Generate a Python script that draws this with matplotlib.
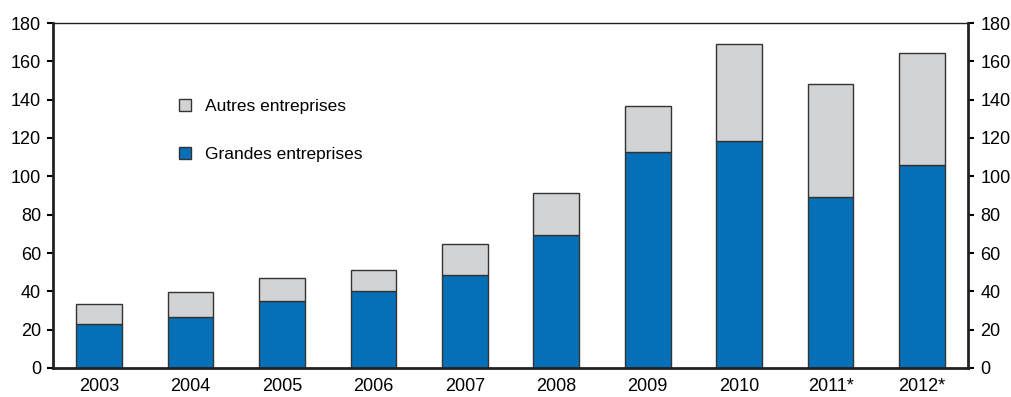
import numpy as np
import matplotlib.pyplot as plt
import matplotlib.font_manager as fm

years = ['2003', '2004', '2005', '2006', '2007', '2008', '2009', '2010', '2011*', '2012*']
grandes = [23.2, 26.8, 35.2, 40.0, 48.7, 69.2, 112.5, 118.3, 89.2, 105.9]
totals = [33.4, 39.6, 46.8, 51.1, 64.9, 91.1, 136.5, 168.9, 148.1, 164.5]
autres = [t - g for t, g in zip(totals, grandes)]

names = {f.name for f in fm.fontManager.ttflist}
fam = 'Liberation Sans Narrow' if 'Liberation Sans Narrow' in names else 'Liberation Sans'
plt.rcParams['font.family'] = [fam, 'DejaVu Sans']

blue = '#0570b8'
grey = '#d1d3d4'
edge = '#333333'

fig = plt.figure(figsize=(10.12, 3.97), dpi=100)
ax = fig.add_axes([53.5/1012, 29/397, (967.7-53.5)/1012, (368-23)/397])

x = np.arange(len(years))
ax.bar(x, grandes, width=0.5, color=blue, edgecolor=edge, linewidth=1, label='Grandes entreprises')
ax.bar(x, autres, width=0.5, bottom=grandes, color=grey, edgecolor=edge, linewidth=1, label='Autres entreprises')

ax.set_xlim(-0.5, 9.5)
ax.set_ylim(0, 180)
ax.set_yticks(np.arange(0, 181, 20))
ax.set_xticks(x)
ax.set_xticklabels(years)
ax.tick_params(axis='x', length=0, pad=7, labelsize=13)
ax.tick_params(axis='y', direction='out', length=4, width=1.5, labelsize=13, pad=5,
               left=True, right=True, labelleft=True, labelright=True)

for s in ['left', 'right', 'bottom']:
    ax.spines[s].set_linewidth(2)
    ax.spines[s].set_color('#222222')
ax.spines['top'].set_linewidth(1)
ax.spines['top'].set_color('#222222')

h, l = ax.get_legend_handles_labels()
ax.legend(h[::-1], l[::-1], loc='upper left', bbox_to_anchor=(0.12, 0.826), frameon=False,
          handlelength=0.7, handleheight=0.7, labelspacing=1.9, handletextpad=0.8, fontsize=12.5)

fig.savefig('out.png', dpi=100)
